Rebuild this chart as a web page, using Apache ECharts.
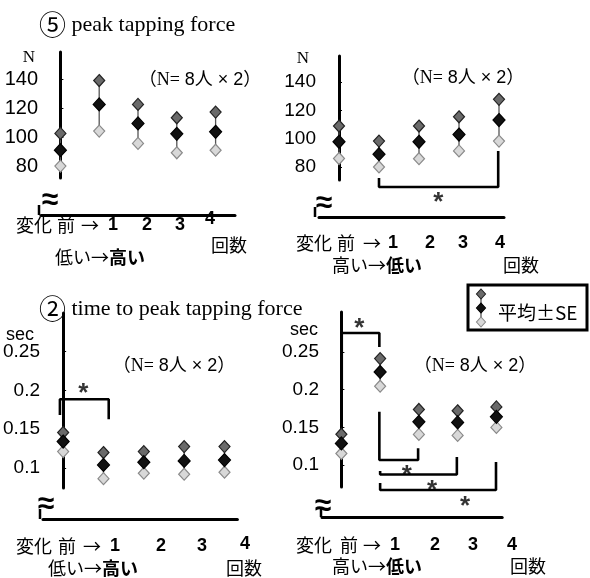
<!DOCTYPE html>
<html><head><meta charset="utf-8">
<script src="https://cdn.jsdelivr.net/npm/echarts@6/dist/echarts.min.js"></script>
<style>html,body{margin:0;padding:0;background:#fff}#c{width:590px;height:578px}</style>
</head><body><div id="c"></div>
<script>
// ---- data ----
const cats = ['前', '1', '2', '3', '4'];
const forceTicks = [80, 100, 120, 140];
const timeTicks = [0.1, 0.15, 0.2, 0.25];
// (5) peak tapping force, low -> high
const tlUpper = [102.8, 139.3, 122.8, 113.6, 117.5];
const tlMean  = [91.2, 122.8, 109.7, 102.5, 103.9];
const tlLower = [80.2, 104.4, 95.9, 89.4, 91.2];
// (5) peak tapping force, high -> low
const trUpper = [109.0, 98.4, 109.0, 115.5, 127.8];
const trMean  = [97.9, 89.2, 97.9, 103.0, 113.2];
const trLower = [86.1, 80.2, 86.0, 91.5, 98.4];
// (2) time to peak tapping force, low -> high
const blUpper = [0.1456, 0.1198, 0.1210, 0.1275, 0.1275];
const blMean  = [0.1340, 0.1038, 0.1073, 0.1090, 0.1100];
const blLower = [0.1210, 0.0861, 0.0931, 0.0918, 0.0944];
// (2) time to peak tapping force, high -> low
const brUpper = [0.1410, 0.2412, 0.1738, 0.1720, 0.1772];
const brMean  = [0.1288, 0.2235, 0.1574, 0.1566, 0.1640];
const brLower = [0.1155, 0.2046, 0.1407, 0.1394, 0.1500];
// significance brackets (x = category position, y = axis value)
const trBrackets = [[[1, 72.4], [1, 66.1], [3.98, 66.1], [3.98, 91.4]]];
const trStars = [[2.48, 59.0]];
const blBrackets = [[[-0.08, 0.1683], [-0.08, 0.1886], [1.13, 0.1886], [1.13, 0.1627]]];
const blStars = [[0.5, 0.204]];
const brBrackets = [
  [[0.01, 0.1996], [0.01, 0.2752], [0.98, 0.2752], [0.98, 0.2566]],
  [[0.98, 0.1708], [0.98, 0.1068], [1.98, 0.1068], [1.98, 0.1223]],
  [[1.0, 0.0922], [1.0, 0.0876], [2.98, 0.0876], [2.98, 0.1108]],
  [[1.0, 0.0763], [1.0, 0.0670], [3.99, 0.0670], [3.99, 0.1041]]
];
const brStars = [[0.46, 0.2888], [1.69, 0.0935], [2.34, 0.0737], [3.19, 0.0524]];
const titleForce = ['⑤', 'peak tapping force'];
const titleTime = ['②', 'time to peak tapping force'];
const nText = ['（N=', ' 8人 × 2）'];
const rowTokens = ['変化', '前', '→', '1', '2', '3', '4'];
const dirLowHigh = ['低い→', '高い'];
const dirHighLow = ['高い→', '低い'];
const countLabel = '回数';
const legendText = '平均±SE';

// ---- layout ----
const SANS = "'Liberation Sans', Arial, 'Noto Sans CJK JP', sans-serif";
const CJK = "'Noto Sans CJK JP', sans-serif";
const SERIF = "'Liberation Serif', 'Times New Roman', 'Noto Sans CJK JP', serif";

const panels = [
  {grid: {left: 41, top: 52, width: 194, height: 126}, ymin: 72, ymax: 159, xmax: 4.5, offset: 37,
   ticks: forceTicks, up: tlUpper, mean: tlMean, lo: tlLower, brackets: [], stars: [], labelSize: 20},
  {grid: {left: 319, top: 56, width: 185, height: 124}, ymin: 71, ymax: 158.3, xmax: 4.125, offset: 37,
   ticks: forceTicks, up: trUpper, mean: trMean, lo: trLower, brackets: trBrackets, stars: trStars, labelSize: 19},
  {grid: {left: 41, top: 313, width: 196.4, height: 175}, ymin: 0.074, ymax: 0.3, xmax: 4.32, offset: 31,
   ticks: timeTicks, up: blUpper, mean: blMean, lo: blLower, brackets: blBrackets, stars: blStars, labelSize: 19},
  {grid: {left: 322, top: 312, width: 180.2, height: 175}, ymin: 0.071, ymax: 0.303, xmax: 4.15, offset: 30,
   ticks: timeTicks, up: brUpper, mean: brMean, lo: brLower, brackets: brBrackets, stars: brStars, labelSize: 19}
];

const grids = [], xAxes = [], yAxes = [], series = [];
panels.forEach((p, k) => {
  grids.push(Object.assign({containLabel: false}, p.grid));
  xAxes.push({gridIndex: k, type: 'value', min: -0.5, max: p.xmax, offset: p.offset,
    axisLine: {show: true, onZero: false, lineStyle: {color: '#000', width: 3}},
    axisTick: {show: false}, axisLabel: {show: false}, splitLine: {show: false}});
  yAxes.push({gridIndex: k, type: 'value', min: p.ymin, max: p.ymax,
    axisLine: {show: true, lineStyle: {color: '#000', width: 3}},
    axisTick: {show: true, inside: true, length: 3, customValues: p.ticks, lineStyle: {color: '#000', width: 1}},
    axisLabel: {customValues: p.ticks, margin: 3, color: '#000', fontSize: p.labelSize, fontFamily: SANS},
    splitLine: {show: false}});
  const errData = cats.map((c, i) => [i, p.lo[i], p.up[i]]);
  series.push({type: 'custom', xAxisIndex: k, yAxisIndex: k, data: errData, silent: true, z: 2,
    renderItem: (params, api) => {
      const a = api.coord([api.value(0), api.value(1)]);
      const b = api.coord([api.value(0), api.value(2)]);
      return {type: 'line', shape: {x1: a[0], y1: a[1], x2: b[0], y2: b[1]},
        style: {stroke: '#555', lineWidth: 1.3}};
    }});
  const sc = (arr, fill, border, z, size) => ({type: 'scatter', xAxisIndex: k, yAxisIndex: k, z: z,
    symbol: 'diamond', symbolSize: size, silent: true,
    itemStyle: {color: fill, borderColor: border, borderWidth: 1.2, opacity: 1},
    data: cats.map((c, i) => [i, arr[i]])});
  series.push(sc(p.up, '#6a6a6a', '#222', 3, [11, 12]));
  series.push(sc(p.lo, '#d8d8d8', '#8a8a8a', 3, [11, 12]));
  series.push(sc(p.mean, '#111', '#000', 4, [12, 13]));
  p.brackets.forEach(b => series.push({type: 'line', xAxisIndex: k, yAxisIndex: k, data: b, clip: false,
    symbol: 'none', silent: true, z: 5, lineStyle: {color: '#000', width: 2.6}}));
  if (p.stars.length) series.push({type: 'scatter', xAxisIndex: k, yAxisIndex: k, data: p.stars, clip: false,
    symbol: 'circle', symbolSize: 2, itemStyle: {color: 'rgba(0,0,0,0)'}, silent: true, z: 6,
    label: {show: true, position: 'inside', formatter: '*', fontSize: 26, fontWeight: 'bold', fontFamily: SANS, color: '#000', offset: [0, 6]}});
});

// text decorations
const T = (x, y, text, font, opts) => Object.assign({type: 'text', x: x, y: y,
  style: Object.assign({text: text, font: font, fill: '#000', align: 'center', verticalAlign: 'middle'}, opts || {})});
const rowPos = [
  {y: 225, xs: [34, 66, 90, 113, 147, 180, 210], y4: 219, dir: dirLowHigh, dx: 100, dy: 257, cx: 229, cy: 245},
  {y: 243, xs: [314, 346, 372, 393, 430, 463, 500], y4: 243, dir: dirHighLow, dx: 377, dy: 265, cx: 521, cy: 265},
  {y: 546, xs: [34, 67, 92, 115, 161, 202, 245], y4: 544, dir: dirLowHigh, dx: 93, dy: 568, cx: 244, cy: 568},
  {y: 545, xs: [314, 349, 372, 395, 435, 473, 512], y4: 545, dir: dirHighLow, dx: 377, dy: 566, cx: 528, cy: 566}
];
const g = [];
rowPos.forEach((r, k) => {
  rowTokens.forEach((t, i) => {
    const isDigit = /\d/.test(t);
    const font = isDigit ? 'bold 18px ' + SANS : '18px ' + CJK;
    g.push(T(r.xs[i], i === 6 ? r.y4 : r.y, t, font));
  });
  g.push({type: 'text', x: r.dx, y: r.dy, style: {text: '{a|' + r.dir[0] + '}{b|' + r.dir[1] + '}',
    align: 'center', verticalAlign: 'middle',
    rich: {a: {fontSize: 18, fontFamily: CJK, fill: '#000'}, b: {fontSize: 18, fontFamily: CJK, fontWeight: 'bold', fill: '#000'}}}});
  g.push(T(r.cx, r.cy, countLabel, '18px ' + CJK));
});
// titles
[[titleForce, 39, 25], [titleTime, 39, 309]].forEach(t => {
  g.push({type: 'text', x: t[1], y: t[2], style: {text: '{c|' + t[0][0] + '}{s| ' + t[0][1] + '}',
    align: 'left', verticalAlign: 'middle',
    rich: {c: {fontSize: 27, fontFamily: CJK, fill: '#000'}, s: {fontSize: 22, fontFamily: SERIF, fill: '#000'}}}});
});
// axis names
g.push(T(29, 58, 'N', '17px ' + SERIF));
g.push(T(303, 59, 'N', '17px ' + SERIF));
g.push(T(20, 335, 'sec', '18px ' + SANS));
g.push(T(304, 330, 'sec', '18px ' + SANS));
// N= annotations
[[200, 80], [463, 78], [174, 366], [475, 366]].forEach(p => {
  g.push({type: 'text', x: p[0], y: p[1], style: {text: '{a|' + nText[0] + '}{b|' + nText[1] + '}',
    align: 'center', verticalAlign: 'middle',
    rich: {a: {fontSize: 18, fontFamily: SERIF, fill: '#000'}, b: {fontSize: 18, fontFamily: SANS, fill: '#000'}}}});
});
// axis break marks
[[50, 201, 39, 205, 215], [324, 204, 315, 207, 217], [46, 505, 40, 509, 519], [323, 507, 321, 509, 517]].forEach(b => {
  g.push(T(b[0], b[1], '≈', 'bold 30px ' + SANS));
  g.push({type: 'line', shape: {x1: b[2], y1: b[3], x2: b[2], y2: b[4]}, style: {stroke: '#000', lineWidth: 2.5}});
});
// legend box
g.push({type: 'rect', shape: {x: 468, y: 285, width: 119, height: 45}, style: {fill: '#fff', stroke: '#000', lineWidth: 3}});
g.push({type: 'line', shape: {x1: 481, y1: 294, x2: 481, y2: 322}, style: {stroke: '#555', lineWidth: 1.3}});
const dia = (cx, cy, fill, stroke) => ({type: 'polygon', shape: {points: [[cx, cy - 5], [cx + 4.5, cy], [cx, cy + 5], [cx - 4.5, cy]]},
  style: {fill: fill, stroke: stroke, lineWidth: 1.1}});
g.push(dia(481, 294, '#6a6a6a', '#222'));
g.push(dia(481, 308, '#111', '#000'));
g.push(dia(481, 322, '#d8d8d8', '#8a8a8a'));
g.push(T(498, 313, legendText, '19px ' + CJK, {align: 'left'}));

const chart = echarts.init(document.getElementById('c'), null, {renderer: 'canvas'});
chart.setOption({animation: false, backgroundColor: '#fff', grid: grids, xAxis: xAxes, yAxis: yAxes, series: series, graphic: g});
</script></body></html>
